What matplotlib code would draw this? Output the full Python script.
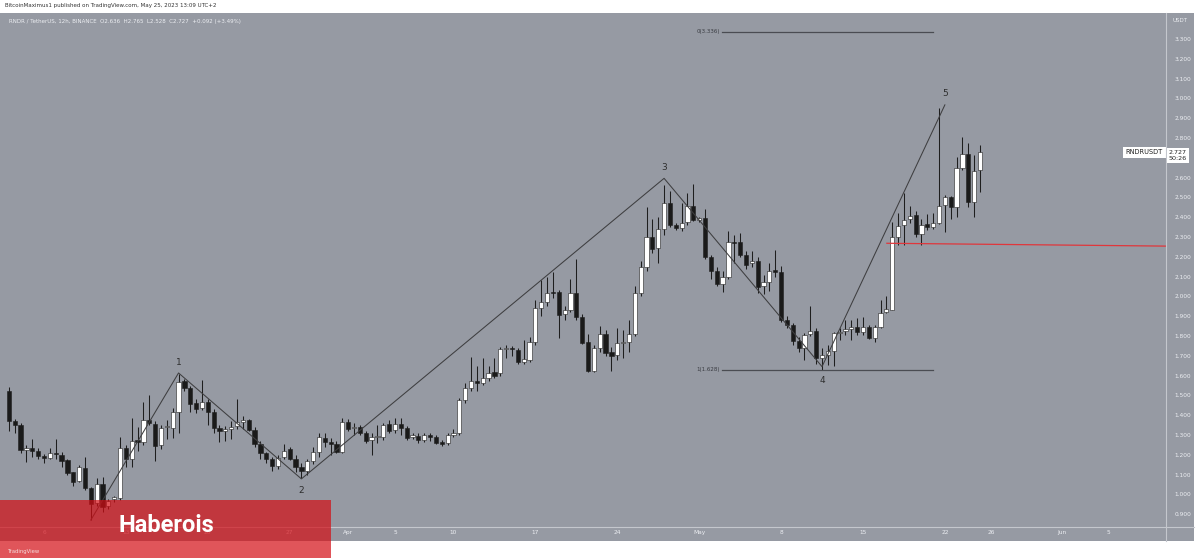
import matplotlib
matplotlib.use('Agg')
import matplotlib.pyplot as plt
import matplotlib.dates as mdates
from matplotlib.patches import Rectangle
from matplotlib.lines import Line2D
import pandas as pd

# 12h candles RNDR/USDT, first candle 2023-03-03 00:00
opens = [1.52, 1.37, 1.35, 1.225, 1.232, 1.221, 1.194, 1.186, 1.211, 1.199,
         1.174, 1.112, 1.068, 1.135, 1.034, 0.955, 1.052, 0.94, 0.975, 0.98,
         1.233, 1.18, 1.275, 1.263, 1.376, 1.356, 1.25, 1.338, 1.334, 1.418,
         1.574, 1.536, 1.46, 1.435, 1.468, 1.418, 1.337, 1.32, 1.33, 1.345,
         1.367, 1.376, 1.325, 1.253, 1.208, 1.18, 1.143, 1.187, 1.228, 1.18,
         1.14, 1.12, 1.17, 1.216, 1.287, 1.266, 1.255, 1.216, 1.367, 1.333,
         1.339, 1.312, 1.272, 1.29, 1.292, 1.354, 1.325, 1.356, 1.337, 1.29,
         1.296, 1.276, 1.298, 1.292, 1.263, 1.258, 1.30, 1.309, 1.477, 1.536,
         1.573, 1.56, 1.587, 1.62, 1.615, 1.733, 1.735, 1.729, 1.667, 1.679,
         1.771, 1.94, 1.973, 2.02, 2.024, 1.911, 1.931, 2.019, 1.897, 1.771,
         1.625, 1.738, 1.81, 1.721, 1.704, 1.763, 1.768, 1.809, 2.019, 2.15,
         2.298, 2.243, 2.339, 2.473, 2.361, 2.344, 2.373, 2.457, 2.386, 2.394,
         2.2, 2.13, 2.063, 2.1, 2.276, 2.276, 2.209, 2.167, 2.179, 2.052,
         2.074, 2.132, 2.122, 1.881, 1.856, 1.772, 1.738, 1.81, 1.827, 1.687,
         1.704, 1.724, 1.813, 1.827, 1.834, 1.844, 1.822, 1.847, 1.788, 1.847,
         1.919, 1.932, 2.302, 2.359, 2.389, 2.411, 2.315, 2.366, 2.349, 2.372,
         2.46, 2.504, 2.45, 2.647, 2.72, 2.475, 2.636]
highs = [1.54, 1.38, 1.36, 1.25, 1.28, 1.232, 1.204, 1.232, 1.28, 1.215,
         1.18, 1.113, 1.15, 1.19, 1.035, 1.08, 1.09, 0.975, 0.99, 1.29,
         1.25, 1.384, 1.34, 1.468, 1.502, 1.37, 1.35, 1.375, 1.435, 1.61,
         1.58, 1.545, 1.48, 1.576, 1.48, 1.43, 1.35, 1.345, 1.37, 1.48,
         1.395, 1.38, 1.34, 1.27, 1.215, 1.19, 1.2, 1.255, 1.24, 1.20,
         1.16, 1.18, 1.24, 1.31, 1.31, 1.285, 1.27, 1.384, 1.38, 1.36,
         1.35, 1.318, 1.31, 1.35, 1.36, 1.375, 1.385, 1.385, 1.345, 1.31,
         1.31, 1.31, 1.31, 1.30, 1.275, 1.31, 1.33, 1.487, 1.56, 1.695,
         1.65, 1.69, 1.65, 1.69, 1.745, 1.755, 1.75, 1.74, 1.78, 1.795,
         1.98, 2.08, 2.10, 2.125, 2.03, 1.95, 2.09, 2.188, 1.91, 1.81,
         1.755, 1.85, 1.83, 1.745, 1.84, 1.83, 1.88, 2.05, 2.18, 2.453,
         2.39, 2.40, 2.56, 2.53, 2.37, 2.47, 2.52, 2.568, 2.40, 2.44,
         2.21, 2.15, 2.13, 2.33, 2.31, 2.32, 2.23, 2.23, 2.2, 2.11,
         2.17, 2.235, 2.155, 1.90, 1.865, 1.795, 1.817, 1.952, 1.84, 1.74,
         1.755, 1.822, 1.84, 1.88, 1.88, 1.89, 1.894, 1.856, 1.856, 1.982,
         2.002, 2.373, 2.423, 2.52, 2.457, 2.43, 2.39, 2.415, 2.423, 2.95,
         2.512, 2.507, 2.702, 2.803, 2.773, 2.714, 2.765]
lows = [1.32, 1.31, 1.21, 1.165, 1.19, 1.178, 1.16, 1.177, 1.177, 1.14,
        1.10, 1.04, 1.06, 1.02, 0.87, 0.94, 0.91, 0.925, 0.96, 0.97,
        1.14, 1.14, 1.22, 1.25, 1.35, 1.17, 1.23, 1.28, 1.285, 1.31,
        1.52, 1.415, 1.41, 1.425, 1.35, 1.31, 1.265, 1.27, 1.28, 1.33,
        1.33, 1.32, 1.24, 1.18, 1.16, 1.12, 1.13, 1.18, 1.175, 1.115,
        1.083, 1.10, 1.155, 1.19, 1.24, 1.20, 1.21, 1.21, 1.32, 1.30,
        1.30, 1.26, 1.20, 1.26, 1.275, 1.31, 1.31, 1.30, 1.275, 1.28,
        1.26, 1.265, 1.27, 1.255, 1.245, 1.25, 1.29, 1.30, 1.46, 1.52,
        1.52, 1.55, 1.57, 1.59, 1.60, 1.69, 1.70, 1.66, 1.66, 1.67,
        1.755, 1.90, 1.95, 1.99, 1.79, 1.88, 1.92, 1.88, 1.76, 1.62,
        1.62, 1.72, 1.70, 1.625, 1.68, 1.69, 1.72, 1.80, 2.0, 2.13,
        2.22, 2.17, 2.31, 2.35, 2.335, 2.33, 2.36, 2.38, 2.375, 2.19,
        2.09, 2.05, 2.02, 2.09, 2.17, 2.2, 2.14, 2.15, 2.015, 2.01,
        2.025, 2.10, 1.87, 1.84, 1.755, 1.72, 1.68, 1.80, 1.66, 1.63,
        1.655, 1.65, 1.78, 1.805, 1.78, 1.805, 1.805, 1.783, 1.77, 1.838,
        1.915, 1.93, 2.26, 2.26, 2.37, 2.30, 2.26, 2.335, 2.34, 2.367,
        2.327, 2.39, 2.40, 2.638, 2.45, 2.40, 2.528]
closes = [1.37, 1.35, 1.225, 1.235, 1.219, 1.194, 1.182, 1.208, 1.203, 1.170,
          1.110, 1.064, 1.137, 1.034, 0.951, 1.052, 0.938, 0.965, 0.985, 1.233,
          1.177, 1.27, 1.263, 1.376, 1.359, 1.244, 1.334, 1.343, 1.418, 1.569,
          1.536, 1.455, 1.431, 1.465, 1.418, 1.334, 1.32, 1.33, 1.342, 1.367,
          1.375, 1.327, 1.255, 1.208, 1.18, 1.145, 1.185, 1.221, 1.179, 1.14,
          1.12, 1.169, 1.216, 1.288, 1.266, 1.255, 1.216, 1.364, 1.329, 1.34,
          1.312, 1.27, 1.288, 1.295, 1.35, 1.322, 1.354, 1.334, 1.287, 1.30,
          1.275, 1.298, 1.292, 1.261, 1.255, 1.30, 1.31, 1.477, 1.536, 1.573,
          1.56, 1.587, 1.615, 1.60, 1.733, 1.736, 1.732, 1.667, 1.682, 1.771,
          1.94, 1.973, 2.019, 2.015, 1.906, 1.931, 2.016, 1.897, 1.766, 1.625,
          1.738, 1.81, 1.713, 1.70, 1.763, 1.771, 1.809, 2.019, 2.15, 2.298,
          2.238, 2.339, 2.473, 2.361, 2.344, 2.369, 2.457, 2.386, 2.394, 2.2,
          2.13, 2.063, 2.1, 2.276, 2.27, 2.209, 2.159, 2.179, 2.049, 2.074,
          2.128, 2.122, 1.881, 1.856, 1.772, 1.738, 1.805, 1.827, 1.687, 1.704,
          1.724, 1.813, 1.822, 1.834, 1.844, 1.818, 1.847, 1.792, 1.847, 1.918,
          1.935, 2.302, 2.356, 2.386, 2.408, 2.313, 2.361, 2.349, 2.372, 2.458,
          2.50, 2.45, 2.647, 2.72, 2.474, 2.635, 2.727]

times = pd.date_range('2023-03-03 00:00', periods=len(opens), freq='12h')

tick_dates = ['2023-03-06', '2023-03-13', '2023-03-20', '2023-03-27', '2023-04-01',
              '2023-04-05', '2023-04-10', '2023-04-17', '2023-04-24', '2023-05-01',
              '2023-05-08', '2023-05-15', '2023-05-22', '2023-05-26', '2023-06-01',
              '2023-06-05']
tick_labels = ['6', '13', '20', '27', 'Apr', '5', '10', '17', '24', 'May',
               '8', '15', '22', '26', 'Jun', '5']
# 2.700 sits under the last price tag
price_ticks = [0.9, 1.0, 1.1, 1.2, 1.3, 1.4, 1.5, 1.6, 1.7, 1.8, 1.9, 2.0, 2.1,
               2.2, 2.3, 2.4, 2.5, 2.6, 2.8, 2.9, 3.0, 3.1, 3.2, 3.3]

# elliott wave count
wave_times = ['2023-03-10 00:00', '2023-03-17 12:00', '2023-03-28 00:00',
              '2023-04-28 00:00', '2023-05-11 12:00', '2023-05-22 00:00']
wave_prices = [0.87, 1.613, 1.078, 2.596, 1.645, 2.967]
wave_labels = ['', '1', '2', '3', '4', '5']
wave_offsets = [0, 0.055, -0.058, 0.055, -0.07, 0.055]

fib_levels = [3.336, 1.628]
fib_labels = ['0(3.336)', '1(1.628)']
fib_span = ['2023-05-02 23:00', '2023-05-21 00:00']

red_line_times = ['2023-05-17 01:00', '2023-06-11 00:00']
red_line_prices = [2.268, 2.253]

bg = '#969aa3'
axis_text = '#eceef2'

fig = plt.figure(figsize=(12, 5.6), dpi=100, facecolor='white')
W, H = 1200, 560

# chart panel background (incl. price and time scales)
fig.patches.append(Rectangle((0, 1 - 541 / H), 1194 / W, 528 / H, transform=fig.transFigure,
                             facecolor=bg, edgecolor='none', zorder=-5))

ax = fig.add_axes([0, 1 - 527 / H, 1166 / W, 514 / H])
ax.set_facecolor(bg)

x = mdates.date2num(times)
base = mdates.date2num(pd.Timestamp('2023-03-01'))
ax.set_xlim(base + 1.239, base + 100.9)
ax.set_ylim(0.835, 3.431)

for xi, o, h, l, c in zip(x, opens, highs, lows, closes):
    ax.vlines(xi, l, h, color='#1e1e1e', linewidth=0.75, zorder=2)
    bottom = min(o, c)
    height = max(abs(c - o), 0.006)
    face = 'white' if c >= o else '#1a1a1a'
    ax.bar(xi, height, bottom=bottom, width=0.36, color=face,
           edgecolor='#1e1e1e', linewidth=0.4, zorder=3)

# wave lines
wx = mdates.date2num(pd.to_datetime(wave_times))
ax.plot(wx, wave_prices, color='#3e3e40', linewidth=0.75, zorder=4)
for xi, p, lab, off in zip(wx, wave_prices, wave_labels, wave_offsets):
    if lab:
        ax.text(xi, p + off, lab, ha='center', va='center', fontsize=6.5,
                color='#2e2e2e', zorder=5)

# fib levels
fx = mdates.date2num(pd.to_datetime(fib_span))
for lvl, lab in zip(fib_levels, fib_labels):
    ax.plot(fx, [lvl, lvl], color='#4a4c52', linewidth=0.9, zorder=4)
    ax.text(fx[0] - 0.2, lvl, lab, ha='right', va='center', fontsize=4,
            color='#3a3c42', zorder=5)

# red trend line
rx = mdates.date2num(pd.to_datetime(red_line_times))
ax.plot(rx, red_line_prices, color='#e0363b', linewidth=0.9, zorder=4)

ax.set_xticks(mdates.date2num(pd.to_datetime(tick_dates)))
ax.set_xticklabels(tick_labels)
ax.set_yticks(price_ticks)
ax.set_yticklabels(['{:.3f}'.format(p) for p in price_ticks])
ax.yaxis.tick_right()
ax.tick_params(axis='x', length=0, pad=2.5, labelsize=4.2, labelcolor=axis_text)
ax.tick_params(axis='y', length=0, pad=6, labelsize=4.2, labelcolor=axis_text)
for s in ax.spines.values():
    s.set_visible(False)

# scale separators
fig.lines.append(Line2D([0, 1194 / W], [1 - 527 / H, 1 - 527 / H], transform=fig.transFigure,
                        color='#c4c7cd', linewidth=0.8))
fig.lines.append(Line2D([1166 / W, 1166 / W], [1 - 13 / H, 1 - 541 / H], transform=fig.transFigure,
                        color='#c4c7cd', linewidth=0.8))

fig.text(1180 / W, 1 - 20 / H, 'USDT', ha='center', va='center', fontsize=4, color=axis_text)

# last price labels
ax.text(0.9975, closes[-1], 'RNDRUSDT', transform=ax.get_yaxis_transform(), ha='right',
        va='center', fontsize=4.8, color='#222222',
        bbox=dict(boxstyle='square,pad=0.4', facecolor='white', edgecolor='none'))
fig.text(1178 / W, 1 - 155.5 / H, '2.727\n50:26', ha='center', va='center', fontsize=4.6,
         color='#222222', linespacing=1.15,
         bbox=dict(boxstyle='square,pad=0.3', facecolor='white', edgecolor='none'))

# header texts
fig.text(5 / W, 1 - 6 / H, 'BitcoinMaximus1 published on TradingView.com, May 25, 2023 13:09 UTC+2',
         ha='left', va='center', fontsize=4, color='#333333')
fig.text(9 / W, 1 - 21 / H,
         'RNDR / TetherUS, 12h, BINANCE  O2.636  H2.765  L2.528  C2.727  +0.092 (+3.49%)',
         ha='left', va='center', fontsize=4, color=axis_text)

# watermark box
fig.patches.append(Rectangle((0, 1 - 558 / H), 331 / W, 58 / H, transform=fig.transFigure,
                             facecolor='#d40d14', alpha=0.7, edgecolor='none', zorder=10))
fig.text(166 / W, 1 - 526 / H, 'Haberois', ha='center', va='center', fontsize=17,
         fontweight='bold', family='Roboto', color='white', zorder=11)
fig.text(8 / W, 1 - 551 / H, 'TradingView', ha='left', va='center', fontsize=3.8,
         color='#f4dede', zorder=11)

plt.savefig('out.png', dpi=100, facecolor='white')
plt.close()
